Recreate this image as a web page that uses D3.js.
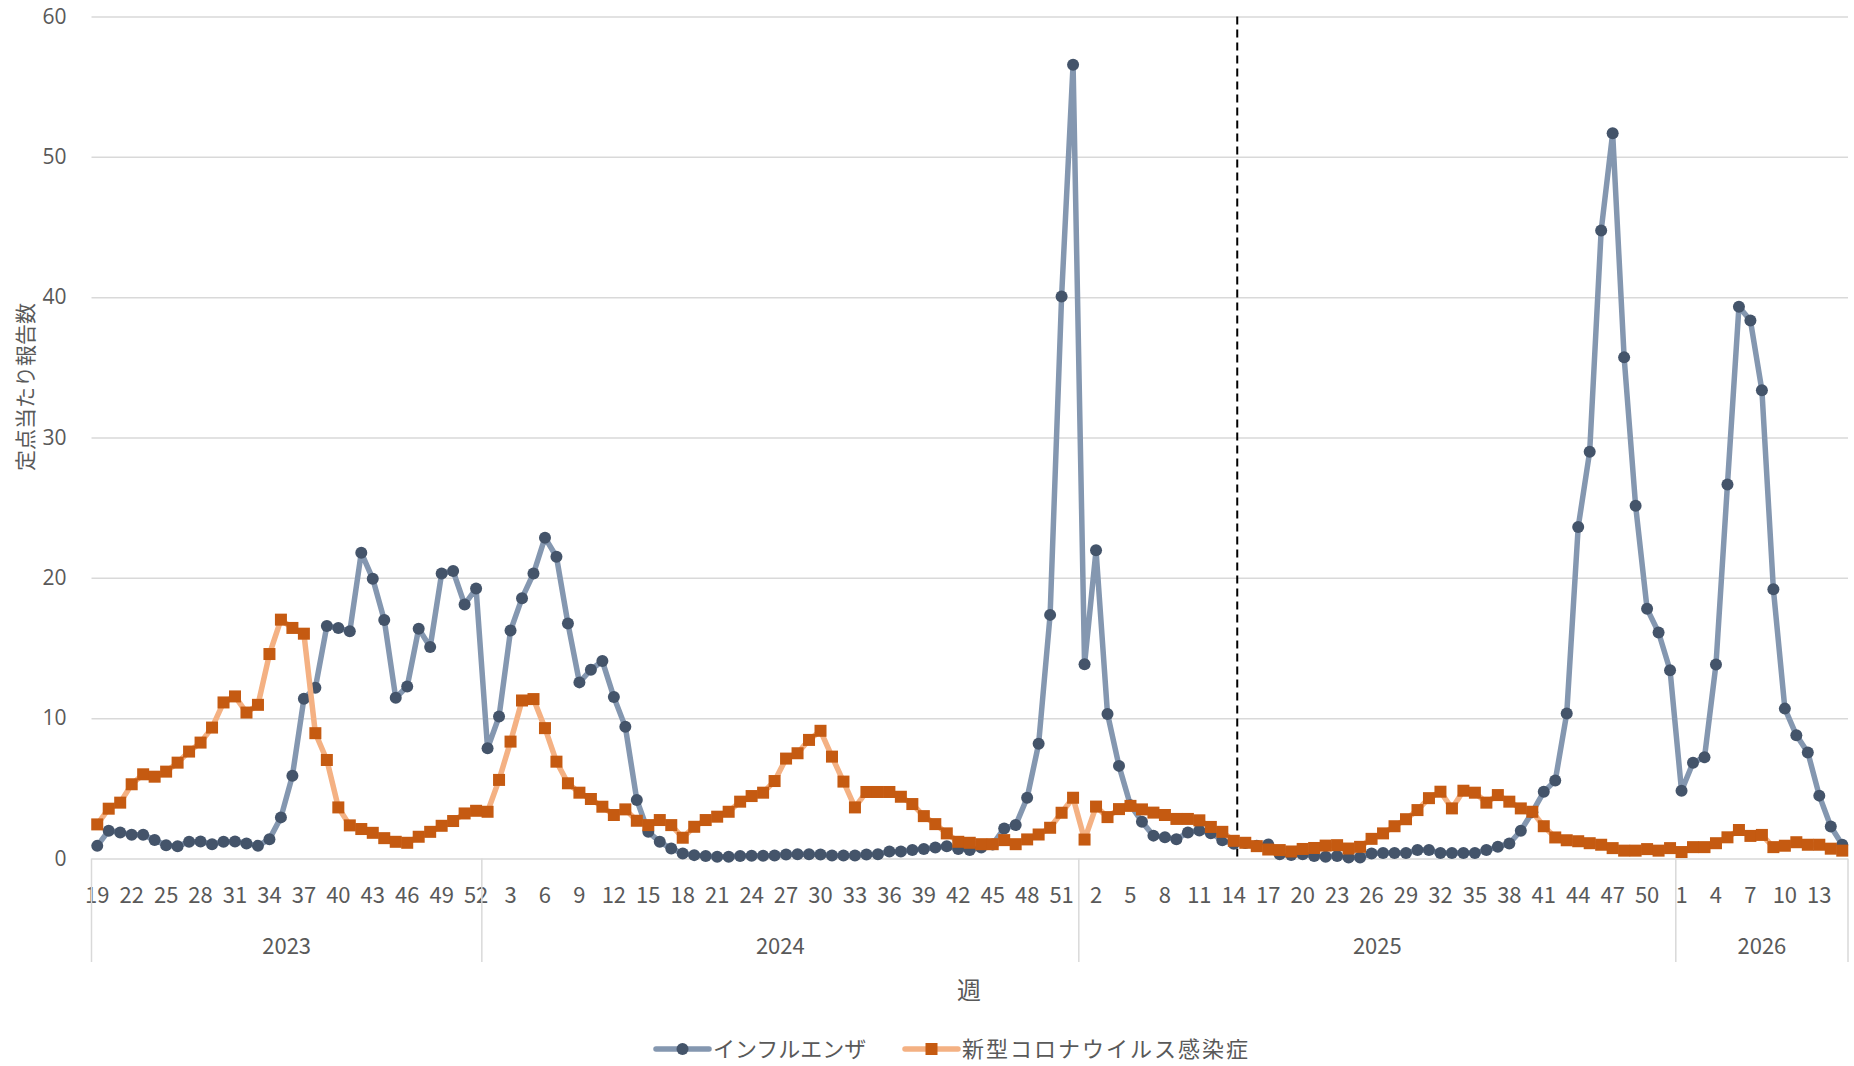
<!DOCTYPE html>
<html><head><meta charset="utf-8">
<script src="https://cdn.jsdelivr.net/npm/d3@7"></script>
<style>
body{margin:0;background:#fff;}
text{font-family:"Noto Sans CJK JP","Noto Sans",sans-serif;}
</style>
</head><body>
<svg id="chart" width="1854" height="1066"></svg>
<script>
// ---- data ----
const years = [2023, 2024, 2025, 2026];
const yearFirstWeek = [19, 1, 1, 1];
const yearLastWeek = [52, 52, 52, 15];
const yTicks = [0, 10, 20, 30, 40, 50, 60];
const seriesNames = ["インフルエンザ", "新型コロナウイルス感染症"];
const yTitle = "定点当たり報告数";
const xTitle = "週";
const markerYear = 2025, markerWeek = 14; // dashed separator after this week

const flu2023 = [0.9,1.98,1.86,1.69,1.69,1.31,0.95,0.88,1.19,1.21,1.02,1.19,1.21,1.07,0.9,1.38,2.93,5.9,11.38,12.17,16.57,16.43,16.19,21.79,19.93,17.0,11.45,12.26,16.38,15.07,20.31,20.48,18.1,19.24];
const flu2024 = [7.85,10.12,16.24,18.55,20.31,22.86,21.5,16.74,12.55,13.45,14.07,11.5,9.38,4.17,1.9,1.19,0.71,0.36,0.24,0.17,0.12,0.12,0.17,0.19,0.19,0.21,0.29,0.31,0.31,0.29,0.21,0.21,0.21,0.29,0.31,0.5,0.5,0.6,0.67,0.79,0.88,0.67,0.6,0.79,1.0,2.14,2.38,4.33,8.17,17.36,40.04,56.57];
const flu2025 = [13.85,21.96,10.3,6.6,3.8,2.62,1.63,1.52,1.38,1.85,2.0,1.8,1.3,1.05,1.1,0.9,1.0,0.3,0.25,0.31,0.17,0.12,0.17,0.07,0.07,0.36,0.4,0.4,0.4,0.6,0.6,0.4,0.4,0.4,0.4,0.6,0.83,1.07,1.98,3.3,4.75,5.55,10.33,23.63,28.99,44.75,51.68,35.71,25.14,17.79,16.11,13.41];
const flu2026 = [4.83,6.83,7.21,13.83,26.65,39.32,38.34,33.37,19.19,10.68,8.79,7.56,4.48,2.28,0.98];

const covid2023 = [2.43,3.55,3.98,5.29,6.0,5.83,6.19,6.83,7.62,8.26,9.33,11.12,11.55,10.4,10.95,14.57,17.02,16.43,16.02,8.93,7.02,3.64,2.36,2.1,1.83,1.45,1.19,1.12,1.55,1.9,2.33,2.67,3.21,3.4];
const covid2024 = [3.33,5.6,8.33,11.26,11.36,9.29,6.9,5.36,4.69,4.24,3.69,3.1,3.5,2.69,2.38,2.74,2.38,1.48,2.26,2.74,2.98,3.33,4.05,4.45,4.69,5.52,7.12,7.5,8.45,9.1,7.26,5.48,3.64,4.74,4.74,4.74,4.4,3.88,3.02,2.45,1.79,1.19,1.12,1.02,1.02,1.31,1.02,1.36,1.71,2.19,3.26,4.33];
const covid2025 = [1.35,3.7,2.95,3.52,3.75,3.5,3.27,3.1,2.82,2.82,2.72,2.25,1.9,1.26,1.12,0.88,0.64,0.6,0.5,0.68,0.75,0.92,0.95,0.71,0.83,1.4,1.79,2.3,2.8,3.45,4.3,4.76,3.57,4.83,4.69,3.98,4.52,4.05,3.57,3.33,2.3,1.5,1.3,1.23,1.09,0.98,0.74,0.56,0.56,0.67,0.56,0.74];
const covid2026 = [0.46,0.81,0.81,1.09,1.51,2.03,1.61,1.68,0.81,0.91,1.16,0.98,0.98,0.7,0.56];

(function () {
// ---- build ----
const cats = [];
years.forEach((yr, k) => { for (let w = yearFirstWeek[k]; w <= yearLastWeek[k]; w++) cats.push({year: yr, week: w}); });
const flu = [].concat(flu2023, flu2024, flu2025, flu2026);
const covid = [].concat(covid2023, covid2024, covid2025, covid2026);
const idx = cats.map((d, i) => i);

const pL = 91.5, pR = 1848, pT = 16.5, pB = 858.5;
const svg = d3.select("#chart");

const x = d3.scaleBand().domain(idx).range([pL, pR]).padding(0);
const y = d3.scaleLinear().domain([0, 60]).range([pB, pT]);
const cx = i => x(i) + x.bandwidth() / 2;

const gridColor = "#d9d9d9", textColor = "#595959";

// y axis with gridlines
const yAxis = svg.append("g").attr("transform", `translate(${pL},0)`)
  .call(d3.axisLeft(y).tickValues(yTicks).tickSize(-(pR - pL)).tickPadding(25));
yAxis.select(".domain").remove();
yAxis.selectAll(".tick line").attr("stroke", gridColor).attr("stroke-width", 1.5);
yAxis.selectAll(".tick text").attr("fill", textColor).attr("font-size", 21)
  .style("font-family", "'Open Sans','Noto Sans',sans-serif");

// x axis (week labels)
const xAxis = svg.append("g").attr("transform", `translate(0,${pB})`)
  .call(d3.axisBottom(x).tickValues(idx.filter(i => i % 3 === 0))
    .tickFormat(i => cats[i].week).tickSize(0).tickPadding(29));
xAxis.select(".domain").remove();
xAxis.selectAll(".tick text").attr("fill", textColor).attr("font-size", 22);

// year group separators & labels
const groups = years.map(yr => {
  const ii = idx.filter(i => cats[i].year === yr);
  return {year: yr, first: ii[0], last: ii[ii.length - 1]};
});
const sepX = groups.map(g => x(g.first)).concat([x(groups[groups.length - 1].last) + x.bandwidth()]);
svg.append("g").selectAll("line").data(sepX).join("line")
  .attr("x1", d => d).attr("x2", d => d).attr("y1", pB).attr("y2", 962)
  .attr("stroke", gridColor).attr("stroke-width", 1.5);
svg.append("g").selectAll("text").data(groups).join("text")
  .attr("x", g => (x(g.first) + x(g.last) + x.bandwidth()) / 2).attr("y", 954)
  .attr("text-anchor", "middle").attr("fill", textColor).attr("font-size", 22)
  .text(g => g.year);

// axis titles
svg.append("text").attr("x", 969).attr("y", 999).attr("text-anchor", "middle")
  .attr("fill", textColor).attr("font-size", 24).text(xTitle);
svg.append("text").attr("transform", "translate(33,387) rotate(-90)").attr("text-anchor", "middle")
  .attr("fill", textColor).attr("font-size", 21).text(yTitle);

// dashed marker line
const mi = idx.find(i => cats[i].year === markerYear && cats[i].week === markerWeek);
const mx = x(mi) + x.bandwidth() * 0.8;
svg.append("line").attr("x1", mx).attr("x2", mx).attr("y1", y(60)).attr("y2", y(0))
  .attr("stroke", "#000").attr("stroke-width", 2).attr("stroke-dasharray", "8,5");

// series
const fluLine = "#8497b0", fluMark = "#44546a";
const covLine = "#f4b183", covMark = "#c55a11";
const line = d3.line().x((d, i) => cx(i)).y(d => y(d));

svg.append("path").datum(flu).attr("d", line).attr("fill", "none")
  .attr("stroke", fluLine).attr("stroke-width", 5.5).attr("stroke-linejoin", "round");
svg.append("g").selectAll("circle").data(flu).join("circle")
  .attr("cx", (d, i) => cx(i)).attr("cy", d => y(d)).attr("r", 6).attr("fill", fluMark);

svg.append("path").datum(covid).attr("d", line).attr("fill", "none")
  .attr("stroke", covLine).attr("stroke-width", 5.5).attr("stroke-linejoin", "round");
const sq = 12;
svg.append("g").selectAll("rect").data(covid).join("rect")
  .attr("x", (d, i) => cx(i) - sq / 2).attr("y", d => y(d) - sq / 2)
  .attr("width", sq).attr("height", sq).attr("fill", covMark);

// legend
const lg = svg.append("g");
const legendItems = [
  {name: seriesNames[0], x0: 656, line: fluLine, mark: fluMark, shape: "circle", ls: 0},
  {name: seriesNames[1], x0: 905, line: covLine, mark: covMark, shape: "rect", ls: 2}
];
const ly = 1049;
legendItems.forEach(it => {
  lg.append("line").attr("x1", it.x0).attr("x2", it.x0 + 53).attr("y1", ly).attr("y2", ly)
    .attr("stroke", it.line).attr("stroke-width", 5.5).attr("stroke-linecap", "round");
  if (it.shape === "circle") lg.append("circle").attr("cx", it.x0 + 26.5).attr("cy", ly).attr("r", 6).attr("fill", it.mark);
  else lg.append("rect").attr("x", it.x0 + 26.5 - 6).attr("y", ly - 6).attr("width", 12).attr("height", 12).attr("fill", it.mark);
  lg.append("text").attr("x", it.x0 + 57).attr("y", ly + 8).attr("fill", textColor)
    .attr("font-size", 22).attr("letter-spacing", it.ls).text(it.name);
});
})();
</script>
</body></html>
